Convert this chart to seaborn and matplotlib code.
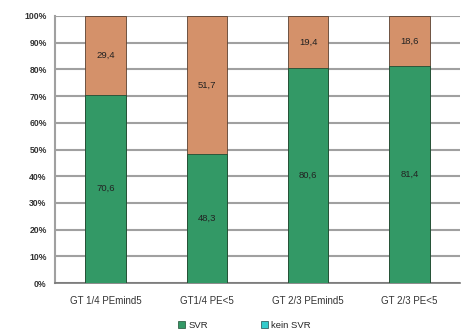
import numpy as np
import pandas as pd
import matplotlib
matplotlib.use("Agg")
import matplotlib.pyplot as plt
from matplotlib.patches import Patch
import seaborn as sns

categories = ["GT 1/4 PEmind5", "GT1/4 PE<5", "GT 2/3 PEmind5", "GT 2/3 PE<5"]
svr = [70.6, 48.3, 80.6, 81.4]
kein_svr = [29.4, 51.7, 19.4, 18.6]
svr_labels = ["70,6", "48,3", "80,6", "81,4"]
kein_labels = ["29,4", "51,7", "19,4", "18,6"]

GREEN = "#339966"
ORANGE = "#D4916A"
CYAN = "#33CCCC"

sns.set_style("white")
plt.rcParams["font.family"] = ["Liberation Sans", "DejaVu Sans"]

df = pd.DataFrame({"cat": categories, "svr": svr, "kein": kein_svr})
df["total"] = df["svr"] + df["kein"]

fig = plt.figure(figsize=(4.7, 3.33), dpi=100)
ax = fig.add_axes([0.117, 0.150, 0.862, 0.802])

# stacked bars: draw total (kein SVR on top) then SVR over it
sns.barplot(data=df, x="cat", y="total", color=ORANGE, width=0.4,
            edgecolor="#5a4030", linewidth=0.6, saturation=1, ax=ax, zorder=3)
sns.barplot(data=df, x="cat", y="svr", color=GREEN, width=0.4,
            edgecolor="#1f4d33", linewidth=0.6, saturation=1, ax=ax, zorder=4)

for i in range(len(categories)):
    ax.text(i, svr[i] / 2, svr_labels[i], ha="center", va="center",
            fontsize=6.8, color="#222222", zorder=5)
    ax.text(i, svr[i] + kein_svr[i] / 2, kein_labels[i], ha="center",
            va="center", fontsize=6.8, color="#222222", zorder=5)

ax.set_ylim(0, 100)
ax.set_xlim(-0.5, len(categories) - 0.5)
ax.set_yticks(np.arange(0, 101, 10))
ax.set_yticklabels([f"{v}%" for v in range(0, 101, 10)])
ax.yaxis.grid(True, color="#a0a0a0", linewidth=1.5, zorder=0)
ax.set_axisbelow(True)

# category labels centred (major), tick marks at boundaries (minor)
ax.set_xticks(np.arange(len(categories)))
ax.set_xticklabels(categories)
ax.set_xticks(np.arange(len(categories) + 1) - 0.5, minor=True)
ax.tick_params(axis="x", which="major", length=0, pad=9, labelsize=7,
               labelcolor="#333333")
ax.tick_params(axis="x", which="minor", length=4, color="#666666",
               direction="out", width=1)
ax.tick_params(axis="y", length=4, color="#888888", direction="out", pad=2,
               labelsize=6.2, labelcolor="#333333")
for lbl in ax.get_yticklabels():
    lbl.set_fontweight("bold")

ax.set_xlabel("")
ax.set_ylabel("")
for side in ["top", "right"]:
    ax.spines[side].set_visible(False)
ax.spines["left"].set_color("#a0a0a0")
ax.spines["left"].set_linewidth(1.5)
ax.spines["bottom"].set_color("#777777")
ax.spines["bottom"].set_linewidth(1.2)

handles = [Patch(facecolor=GREEN, edgecolor="#1f4d33", linewidth=0.5, label="SVR"),
           Patch(facecolor=CYAN, edgecolor="#1f4d4d", linewidth=0.5, label="kein SVR")]
fig.legend(handles=handles, loc="center", bbox_to_anchor=(0.52, 0.024), ncol=2,
           frameon=False, fontsize=6.8, handlelength=0.8, handleheight=0.8,
           handletextpad=0.3, columnspacing=5.6)

fig.savefig("out.png", dpi=100)
